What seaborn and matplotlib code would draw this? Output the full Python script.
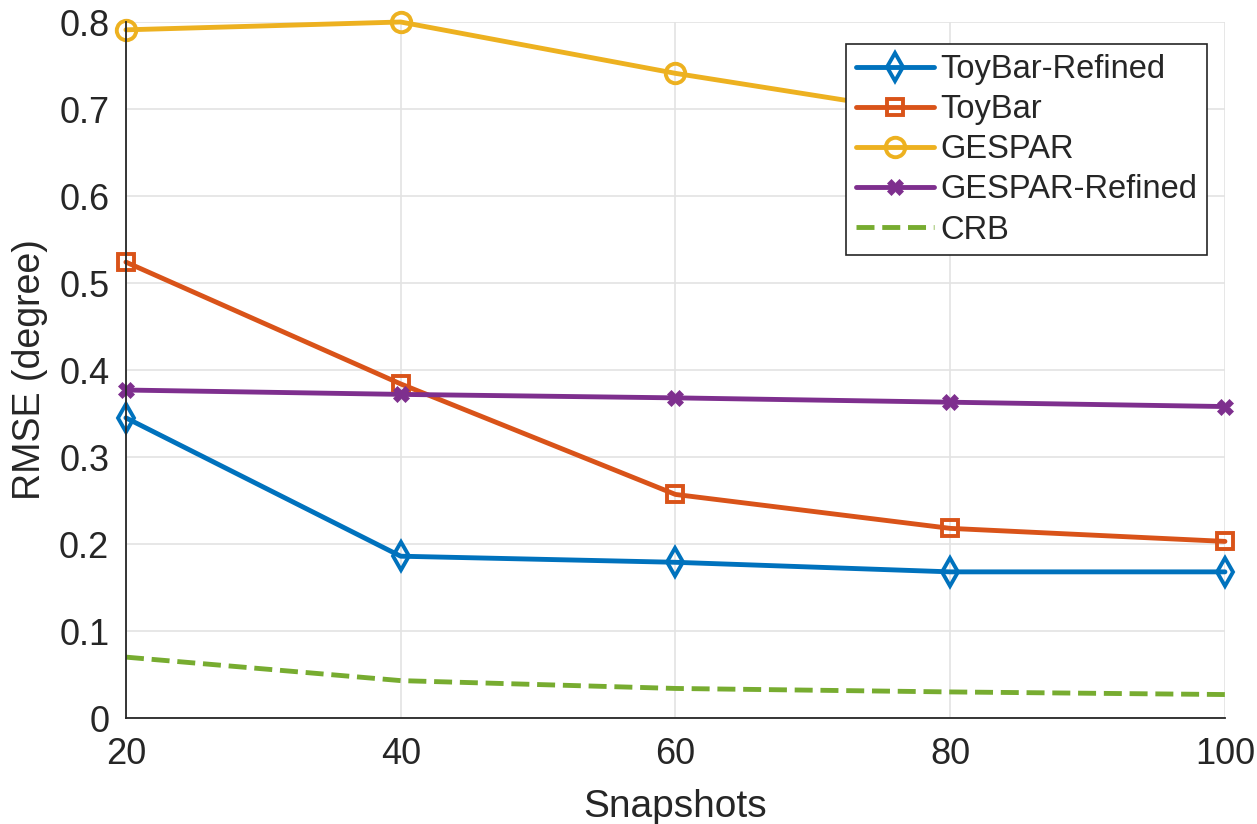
import numpy as np
import pandas as pd
import matplotlib
matplotlib.use("Agg")
import matplotlib.pyplot as plt
import seaborn as sns

snapshots = [20, 40, 60, 80, 100]
toybar_refined = [0.345, 0.186, 0.179, 0.168, 0.168]
toybar = [0.524, 0.384, 0.257, 0.218, 0.203]
gespar = [0.791, 0.800, 0.741, 0.691, np.nan]
gespar_refined = [0.377, 0.372, 0.368, 0.363, 0.358]
crb = [0.070, 0.043, 0.034, 0.030, 0.027]

series_names = ["ToyBar-Refined", "ToyBar", "GESPAR", "GESPAR-Refined", "CRB"]
series_values = [toybar_refined, toybar, gespar, gespar_refined, crb]
colors = ["#0072BD", "#D95319", "#EDB120", "#7E2F8E", "#77AC30"]
markers = ["d", "s", "o", "X", None]
linestyles = ["-", "-", "-", "-", "--"]

sns.set_theme(style="white")
plt.rcParams['font.family'] = ['Liberation Sans', 'DejaVu Sans']

fig = plt.figure(figsize=(12.57, 8.24), dpi=100)
ax = fig.add_axes([0.1002, 0.1286, 0.8743, 0.8447])

for name, vals, c, m, ls in zip(series_names, series_values, colors, markers, linestyles):
    df = pd.DataFrame({"x": snapshots, "y": vals}).dropna()
    kw = dict(color=c, linewidth=3.5, linestyle=ls, label=name, clip_on=False)
    if m is not None:
        if m == "X":
            kw.update(marker=m, markersize=12, markerfacecolor=c, markeredgecolor=c, markeredgewidth=0.5)
        else:
            kw.update(marker=m, markersize=14 if m != "s" else 12, markerfacecolor="none",
                      markeredgecolor=c, markeredgewidth=2.8)
    else:
        kw.update(dashes=(3.5, 3.5))
    sns.lineplot(data=df, x="x", y="y", ax=ax, **kw)

ax.set_xlim(20, 100)
ax.set_ylim(0, 0.8)
ax.set_xticks([20, 40, 60, 80, 100])
ax.set_yticks(np.arange(0, 0.81, 0.1))
ax.set_yticklabels(["0", "0.1", "0.2", "0.3", "0.4", "0.5", "0.6", "0.7", "0.8"])
ax.grid(True, color="#e3e3e3", linewidth=1.2)
ax.set_axisbelow(True)
for s in ["top", "right"]:
    ax.spines[s].set_visible(False)
for s in ["left", "bottom"]:
    ax.spines[s].set_color("#262626")
    ax.spines[s].set_linewidth(1.3)
ax.tick_params(axis="both", direction="in", length=11, width=1.2, color="#262626",
               labelsize=26, labelcolor="#262626")
ax.tick_params(axis="x", pad=14)
ax.tick_params(axis="y", pad=12)
ax.set_xlabel("Snapshots", fontsize=28, color="#262626", labelpad=12)
ax.set_ylabel("RMSE (degree)", fontsize=27, color="#262626", labelpad=8)

leg = ax.legend(loc="upper right", bbox_to_anchor=(0.984, 0.968), fontsize=23.5,
                frameon=True, fancybox=False, edgecolor="#262626", framealpha=1,
                handlelength=2.4, handletextpad=0.2, labelspacing=0.28, borderpad=0.3,
                borderaxespad=0)
leg.get_frame().set_linewidth(1.2)

fig.savefig("out.png", dpi=100)
